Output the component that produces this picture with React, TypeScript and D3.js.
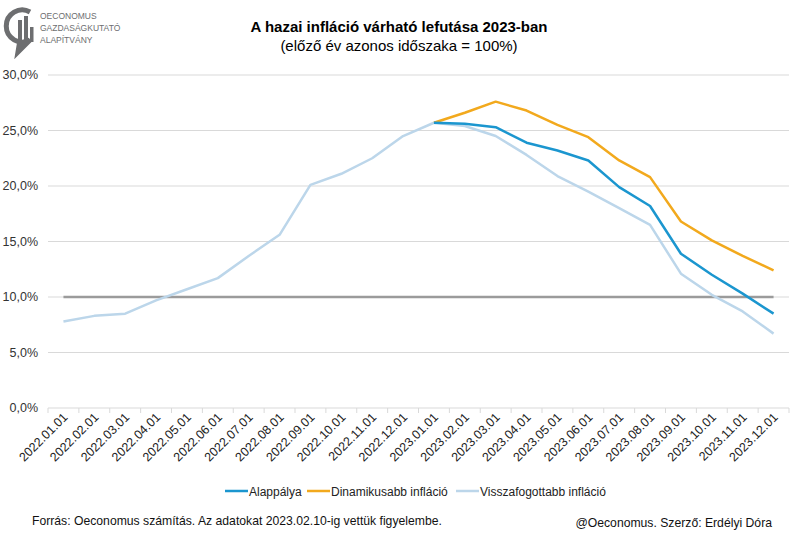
import React, { useRef, useEffect } from 'react';
import * as d3 from 'd3';

const months = [
  '2022.01.01', '2022.02.01', '2022.03.01', '2022.04.01', '2022.05.01', '2022.06.01',
  '2022.07.01', '2022.08.01', '2022.09.01', '2022.10.01', '2022.11.01', '2022.12.01',
  '2023.01.01', '2023.02.01', '2023.03.01', '2023.04.01', '2023.05.01', '2023.06.01',
  '2023.07.01', '2023.08.01', '2023.09.01', '2023.10.01', '2023.11.01', '2023.12.01',
];

// null = no value for that month
const alappalya: (number | null)[] = [
  null, null, null, null, null, null, null, null, null, null, null, null,
  25.7, 25.6, 25.3, 23.9, 23.2, 22.3, 19.9, 18.2, 13.9, 12.0, 10.3, 8.5,
];
const dinamikusabb: (number | null)[] = [
  null, null, null, null, null, null, null, null, null, null, null, null,
  25.7, 26.6, 27.6, 26.8, 25.5, 24.4, 22.3, 20.8, 16.8, 15.1, 13.7, 12.4,
];
const visszafogottabb: (number | null)[] = [
  7.8, 8.3, 8.5, 9.7, 10.7, 11.7, 13.7, 15.6, 20.1, 21.1, 22.5, 24.5,
  25.7, 25.4, 24.5, 22.8, 20.9, 19.5, 18.0, 16.5, 12.1, 10.2, 8.7, 6.7,
];
const targetLevel = 10;
const yTicks = [0, 5, 10, 15, 20, 25, 30];

const seriesList = [
  { name: 'Alappálya', values: alappalya, color: '#1b96cf' },
  { name: 'Dinamikusabb infláció', values: dinamikusabb, color: '#f2a91d' },
  { name: 'Visszafogottabb infláció', values: visszafogottabb, color: '#bcd6ea' },
];

const FONT = '"Liberation Sans", Arial, sans-serif';

const InflationChart: React.FC = () => {
  const svgRef = useRef<SVGSVGElement>(null);

  useEffect(() => {
    if (!svgRef.current) return;
    const svg = d3.select(svgRef.current);
    svg.selectAll('*').remove();

    const left = 48, right = 789, top = 75, bottom = 408;

    const x = d3.scaleBand<string>().domain(months).range([left, right]);
    const y = d3.scaleLinear().domain([0, 30]).range([bottom, top]);
    const cx = (m: string) => (x(m) ?? 0) + x.bandwidth() / 2;

    // logo
    const logo = svg.append('g');
    logo.append('path')
      .attr('d', 'M30,12 A16,16 0 1 0 30,40 L18,52 L20,40')
      .attr('fill', 'none')
      .attr('stroke', '#6d6e70')
      .attr('stroke-width', 5);
    [[18, 20, 4, 22], [24, 16, 4, 26], [30, 27, 3.5, 15]].forEach(([bx, by, bw, bh]) => {
      logo.append('rect').attr('x', bx).attr('y', by).attr('width', bw).attr('height', bh).attr('fill', '#6d6e70');
    });
    ['OECONOMUS', 'GAZDASÁGKUTATÓ', 'ALAPÍTVÁNY'].forEach((t, i) => {
      logo.append('text')
        .attr('x', 40).attr('y', 19 + i * 12)
        .attr('font-family', FONT).attr('font-size', 8.5)
        .attr('fill', '#6d6e70')
        .text(t);
    });

    // titles
    svg.append('text')
      .attr('x', 399).attr('y', 32)
      .attr('text-anchor', 'middle')
      .attr('font-family', FONT).attr('font-size', 15).attr('font-weight', 'bold')
      .attr('fill', '#000')
      .text('A hazai infláció várható lefutása 2023-ban');
    svg.append('text')
      .attr('x', 399).attr('y', 51)
      .attr('text-anchor', 'middle')
      .attr('font-family', FONT).attr('font-size', 15)
      .attr('fill', '#000')
      .text('(előző év azonos időszaka = 100%)');

    // gridlines
    svg.append('g')
      .selectAll('line')
      .data(yTicks)
      .enter()
      .append('line')
      .attr('x1', left).attr('x2', right)
      .attr('y1', d => y(d)).attr('y2', d => y(d))
      .attr('stroke', '#d9d9d9')
      .attr('stroke-width', 1);

    // y labels
    svg.append('g')
      .selectAll('text')
      .data(yTicks)
      .enter()
      .append('text')
      .attr('x', 38).attr('y', d => y(d) + 4)
      .attr('text-anchor', 'end')
      .attr('font-family', FONT).attr('font-size', 12.5)
      .attr('fill', '#333')
      .text(d => d.toFixed(1).replace('.', ',') + '%');

    // x ticks at band edges
    const edges = months.map(m => x(m) ?? 0).concat([right]);
    svg.append('g')
      .selectAll('line')
      .data(edges)
      .enter()
      .append('line')
      .attr('x1', d => d).attr('x2', d => d)
      .attr('y1', bottom).attr('y2', bottom + 5)
      .attr('stroke', '#d9d9d9');

    // x labels
    svg.append('g')
      .selectAll('text')
      .data(months)
      .enter()
      .append('text')
      .attr('transform', d => `translate(${cx(d) + 5},${bottom + 10}) rotate(-45)`)
      .attr('text-anchor', 'end')
      .attr('font-family', FONT).attr('font-size', 12.5)
      .attr('fill', '#222')
      .text(d => d);

    // 10% reference
    svg.append('line')
      .attr('x1', cx(months[0])).attr('x2', cx(months[months.length - 1]))
      .attr('y1', y(targetLevel)).attr('y2', y(targetLevel))
      .attr('stroke', '#9b9b9b')
      .attr('stroke-width', 2.5);

    const line = d3.line<number | null>()
      .defined(d => d !== null)
      .x((_, i) => cx(months[i]))
      .y(d => y(d as number));

    // draw light first, then orange, then blue on top
    [seriesList[2], seriesList[1], seriesList[0]].forEach(s => {
      svg.append('path')
        .datum(s.values)
        .attr('fill', 'none')
        .attr('stroke', s.color)
        .attr('stroke-width', 2.5)
        .attr('stroke-linejoin', 'round')
        .attr('d', line);
    });

    // legend
    const legendX = [225, 307, 456];
    seriesList.forEach((s, i) => {
      const lg = svg.append('g').attr('transform', `translate(${legendX[i]},491)`);
      lg.append('line')
        .attr('x1', 0).attr('x2', 23).attr('y1', 0).attr('y2', 0)
        .attr('stroke', s.color).attr('stroke-width', 2.5);
      lg.append('text')
        .attr('x', 24).attr('y', 4.5)
        .attr('font-family', FONT).attr('font-size', 12)
        .attr('fill', '#222')
        .text(s.name);
    });

    // footer
    svg.append('text')
      .attr('x', 32).attr('y', 525)
      .attr('font-family', FONT).attr('font-size', 12.2)
      .attr('fill', '#111')
      .text('Forrás: Oeconomus számítás. Az adatokat 2023.02.10-ig vettük figyelembe.');
    svg.append('text')
      .attr('x', 772).attr('y', 527)
      .attr('text-anchor', 'end')
      .attr('font-family', FONT).attr('font-size', 12.2)
      .attr('fill', '#111')
      .text('@Oeconomus. Szerző: Erdélyi Dóra');
  }, []);

  return <svg ref={svgRef} width={800} height={540} style={{ display: 'block', background: '#fff' }} />;
};

export default function App() {
  return (
    <div style={{ position: 'absolute', left: 0, top: 0, width: 800, height: 540, background: '#fff' }}>
      <InflationChart />
    </div>
  );
}
